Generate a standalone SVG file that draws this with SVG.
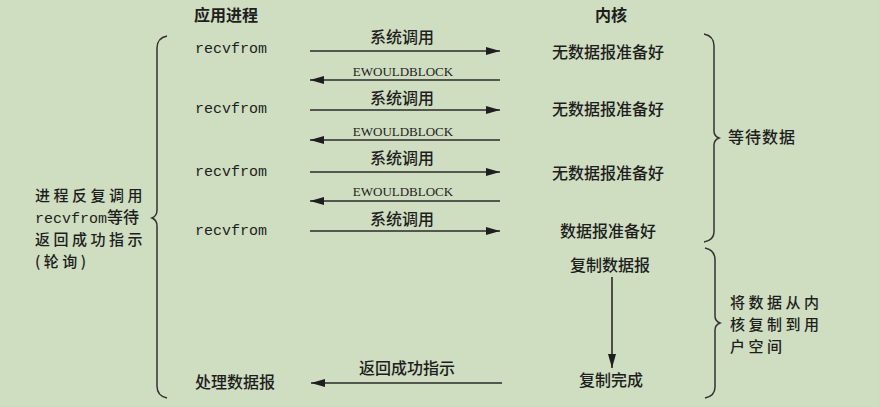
<svg xmlns="http://www.w3.org/2000/svg" width="879" height="407" viewBox="0 0 879 407">
<defs>
<style>
.cn{font-family:"Noto Sans CJK SC","Noto Sans",sans-serif;font-size:16px;fill:#1e1e1e;font-weight:500}
.nt{font-family:"Noto Sans CJK SC","Noto Sans",sans-serif;font-size:15px;fill:#1e1e1e;font-weight:500;letter-spacing:3.5px}
.hd{font-family:"Noto Sans CJK SC","Noto Sans",sans-serif;font-size:16px;fill:#1e1e1e;font-weight:700}
.mono{font-family:"Liberation Mono",monospace;font-size:15px;fill:#1e1e1e}
.ew{font-family:"Liberation Serif",serif;font-size:13px;fill:#1e1e1e}
.ln{stroke:#2a2a2a;stroke-width:1.6;fill:none}
.br{stroke:#333;stroke-width:1.5;fill:none}
</style>
<marker id="ah" viewBox="0 0 14 8" refX="14" refY="4" markerWidth="14" markerHeight="8" markerUnits="userSpaceOnUse" orient="auto">
<path d="M0,0 L14,4 L0,8 Z" fill="#1e1e1e"/>
</marker>
</defs>
<rect width="879" height="407" fill="#cfddc0"/>

<g id="headers">
<text class="hd" x="226" y="21" text-anchor="middle">应用进程</text>
<text class="hd" x="611" y="21" text-anchor="middle">内核</text>
</g>

<g id="app">
<text class="mono" x="195" y="53">recvfrom</text>
<text class="mono" x="195" y="113">recvfrom</text>
<text class="mono" x="195" y="176">recvfrom</text>
<text class="mono" x="195" y="235">recvfrom</text>
<text class="cn" x="195" y="388">处理数据报</text>
</g>

<g id="kernel">
<text class="cn" x="608" y="58" text-anchor="middle">无数据报准备好</text>
<text class="cn" x="608" y="115" text-anchor="middle">无数据报准备好</text>
<text class="cn" x="608" y="179" text-anchor="middle">无数据报准备好</text>
<text class="cn" x="608" y="237" text-anchor="middle">数据报准备好</text>
<text class="cn" x="610" y="271" text-anchor="middle">复制数据报</text>
<text class="cn" x="611" y="386" text-anchor="middle">复制完成</text>
</g>

<g id="left-note">
<path class="br" d="M167,36 Q157,38 157,48 L157,210 Q157,216 152,218 Q157,220 157,226 L157,386 Q157,396 167,398"/>
<text class="nt" x="35" y="201">进程反复调用</text>
<text x="35" y="223"><tspan class="mono">recvfrom</tspan><tspan class="cn">等待</tspan></text>
<text class="nt" x="35" y="245">返回成功指示</text>
<text class="nt" x="35" y="267">(轮询)</text>
</g>

<g id="wait-note">
<path class="br" d="M704,34 Q714,36 714,46 L714,131 Q714,136 719,138 Q714,140 714,145 L714,232 Q714,240 704,242"/>
<text class="cn" x="728" y="143" letter-spacing="1">等待数据</text>
</g>

<g id="copy-note">
<path class="br" d="M705,248 Q715,250 715,260 L715,316 Q715,321 720,323 Q715,325 715,330 L715,387 Q715,396 705,398"/>
<text class="nt" x="730" y="308">将数据从内</text>
<text class="nt" x="730" y="330">核复制到用</text>
<text class="nt" x="730" y="352">户空间</text>
</g>

<g id="connectors">
<line class="ln" x1="310" y1="51" x2="500" y2="51" marker-end="url(#ah)"/>
<text class="cn" x="402" y="43" text-anchor="middle">系统调用</text>
<line class="ln" x1="500" y1="80" x2="310" y2="80" marker-end="url(#ah)"/>
<text class="ew" x="403" y="76" text-anchor="middle">EWOULDBLOCK</text>
<line class="ln" x1="310" y1="110" x2="500" y2="110" marker-end="url(#ah)"/>
<text class="cn" x="402" y="104" text-anchor="middle">系统调用</text>
<line class="ln" x1="500" y1="140" x2="310" y2="140" marker-end="url(#ah)"/>
<text class="ew" x="403" y="136" text-anchor="middle">EWOULDBLOCK</text>
<line class="ln" x1="310" y1="172" x2="500" y2="172" marker-end="url(#ah)"/>
<text class="cn" x="402" y="164" text-anchor="middle">系统调用</text>
<line class="ln" x1="500" y1="201" x2="310" y2="201" marker-end="url(#ah)"/>
<text class="ew" x="403" y="196" text-anchor="middle">EWOULDBLOCK</text>
<line class="ln" x1="310" y1="231" x2="500" y2="231" marker-end="url(#ah)"/>
<text class="cn" x="402" y="225" text-anchor="middle">系统调用</text>
<line class="ln" x1="612" y1="277" x2="612" y2="368" marker-end="url(#ah)"/>
<line class="ln" x1="502" y1="383" x2="311" y2="383" marker-end="url(#ah)"/>
<text class="cn" x="407" y="374" text-anchor="middle">返回成功指示</text>
</g>
</svg>
